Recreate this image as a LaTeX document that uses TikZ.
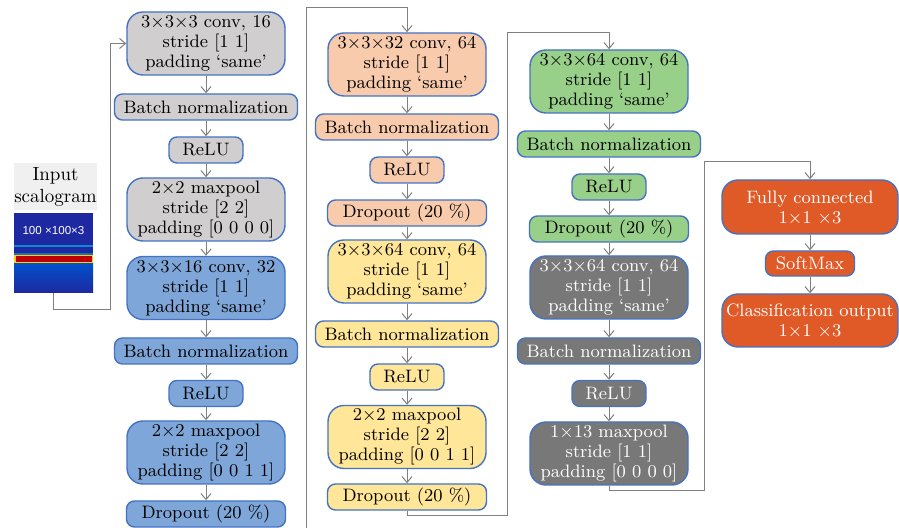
\documentclass[tikz,border=0pt]{standalone}
\usepackage{fontspec}
\newfontfamily\plotfont{Liberation Sans}
\usetikzlibrary{arrows.meta}

\definecolor{edgeblue}{RGB}{68,114,196}
\definecolor{linkgray}{RGB}{128,128,128}
\definecolor{lightgraybox}{RGB}{208,206,206}
\definecolor{bluebox}{RGB}{127,166,216}
\definecolor{salmonbox}{RGB}{248,203,173}
\definecolor{yellowbox}{RGB}{255,230,153}
\definecolor{greenbox}{RGB}{152,208,138}
\definecolor{darkbox}{RGB}{120,120,120}
\definecolor{orangebox}{RGB}{224,90,40}
\definecolor{scalblue}{RGB}{30,40,160}

\begin{document}
\begin{tikzpicture}[x=0.5pt,y=-0.5pt,
    layer/.style={draw=edgeblue, line width=0.7pt, rounded corners=4pt, align=center,
        inner sep=0pt, font=\fontsize{9}{10}\selectfont},
    convbox/.style={layer, rounded corners=8pt, minimum width=79pt, minimum height=31.5pt},
    normbox/.style={layer, minimum width=91.5pt, minimum height=13pt},
    relubox/.style={layer, minimum width=37pt, minimum height=13pt},
    dropbox/.style={layer, minimum width=79.5pt, minimum height=13pt},
    link/.style={draw=linkgray, line width=0.5pt, -{Straight Barb[length=3pt,width=5pt]}}]
    \useasboundingbox (0,0) rectangle (899,528);
    % Define column centres
    \def\colA{206}
    \def\colB{407}
    \def\colC{609}
    \def\colD{810}

    % Input scalogram
    \node[fill=black!6, minimum width=41.5pt, minimum height=23.5pt, align=center, inner sep=0pt,
        font=\fontsize{9.5}{11}\selectfont] (inlabel) at (55.5,186.5) {Input\\scalogram};
    \begin{scope}
        \fill[scalblue] (14,213) rectangle (93,293);
        \shade[top color=blue!60!cyan!80!black, bottom color=scalblue] (14,263) rectangle (93,293);
        \fill[cyan!70!blue] (14,245.5) rectangle (93,247.5);
        \fill[cyan!50!blue] (14,253) rectangle (93,255);
        \fill[yellow!70!orange] (14,255.5) rectangle (93,263.5);
        \fill[red!75!black] (15.5,256.5) rectangle (91.5,262.5);
        \node[text=white, font=\plotfont\fontsize{5.8}{6}\selectfont] at (53.5,231) {100 ×100×3};
    \end{scope}
    \coordinate (scal) at (53.5,293);

    % First column
    \node[convbox, fill=lightgraybox] (conv1) at (\colA,43.5) {3×3×3 conv, 16\\stride [1 1]\\padding `same'};
    \node[normbox, fill=lightgraybox] (bn1) at (\colA,107) {Batch normalization};
    \node[relubox, fill=lightgraybox] (relu1) at (\colA,150) {ReLU};
    \node[convbox, fill=lightgraybox] (pool1) at (\colA,209.5) {2×2 maxpool\\stride [2 2]\\padding [0 0 0 0]};
    \node[convbox, fill=bluebox] (conv2) at (\colA,288) {3×3×16 conv, 32\\stride [1 1]\\padding `same'};
    \node[normbox, fill=bluebox] (bn2) at (\colA,351) {Batch normalization};
    \node[relubox, fill=bluebox] (relu2) at (\colA,393.5) {ReLU};
    \node[convbox, fill=bluebox] (pool2) at (\colA,452.5) {2×2 maxpool\\stride [2 2]\\padding [0 0 1 1]};
    \node[dropbox, fill=bluebox] (drop1) at (\colA,514) {Dropout (20 \%)};

    % Second column
    \node[convbox, fill=salmonbox] (conv3) at (\colB,64.5) {3×3×32 conv, 64\\stride [1 1]\\padding `same'};
    \node[normbox, fill=salmonbox] (bn3) at (\colB,127) {Batch normalization};
    \node[relubox, fill=salmonbox] (relu3) at (\colB,170) {ReLU};
    \node[dropbox, fill=salmonbox] (drop2) at (\colB,213) {Dropout (20 \%)};
    \node[convbox, fill=yellowbox] (conv4) at (\colB,271.5) {3×3×64 conv, 64\\stride [1 1]\\padding `same'};
    \node[normbox, fill=yellowbox] (bn4) at (\colB,334) {Batch normalization};
    \node[relubox, fill=yellowbox] (relu4) at (\colB,377) {ReLU};
    \node[convbox, fill=yellowbox] (pool3) at (\colB,437) {2×2 maxpool\\stride [2 2]\\padding [0 0 1 1]};
    \node[dropbox, fill=yellowbox] (drop3) at (\colB,497) {Dropout (20 \%)};

    % Third column
    \node[convbox, fill=greenbox] (conv5) at (\colC,81.5) {3×3×64 conv, 64\\stride [1 1]\\padding `same'};
    \node[normbox, fill=greenbox] (bn5) at (\colC,144) {Batch normalization};
    \node[relubox, fill=greenbox] (relu5) at (\colC,187) {ReLU};
    \node[dropbox, fill=greenbox] (drop4) at (\colC,229) {Dropout (20 \%)};
    \node[convbox, fill=darkbox, text=white] (conv6) at (\colC,287.5) {3×3×64 conv, 64\\stride [1 1]\\padding `same'};
    \node[normbox, fill=darkbox, text=white] (bn6) at (\colC,351) {Batch normalization};
    \node[relubox, fill=darkbox, text=white] (relu6) at (\colC,393.5) {ReLU};
    \node[convbox, fill=darkbox, text=white] (pool4) at (\colC,453.5) {1×13 maxpool\\stride [1 1]\\padding [0 0 0 0]};

    % Output column
    \node[layer, rounded corners=8pt, fill=orangebox, text=white, minimum width=88pt, minimum height=27pt]
        (fc) at (\colD,207) {Fully connected\\1×1 ×3};
    \node[layer, fill=orangebox, text=white, minimum width=44.5pt, minimum height=12.5pt]
        (softmax) at (\colD,263.5) {SoftMax};
    \node[layer, rounded corners=8pt, fill=orangebox, text=white, minimum width=88pt, minimum height=26.5pt]
        (classout) at (\colD,320.5) {Classification output\\1×1 ×3};

    % Arrows inside each column
    \foreach \a/\b in {conv1/bn1, bn1/relu1, relu1/pool1, pool1/conv2, conv2/bn2, bn2/relu2, relu2/pool2, pool2/drop1,
        conv3/bn3, bn3/relu3, relu3/drop2, drop2/conv4, conv4/bn4, bn4/relu4, relu4/pool3, pool3/drop3,
        conv5/bn5, bn5/relu5, relu5/drop4, drop4/conv6, conv6/bn6, bn6/relu6, relu6/pool4,
        fc/softmax, softmax/classout}
        \draw[link] (\a) -- (\b);

    % Links from one column to the next
    \coordinate (inbend) at (110,310);
    \coordinate (loopA) at (306,540);
    \coordinate (topA) at (306,8);
    \coordinate (loopB) at (507,516);
    \coordinate (topB) at (507,33);
    \coordinate (loopC) at (704,491);
    \coordinate (topC) at (704,162);
    \draw[link] (scal) |- (inbend) |- (conv1.west);
    \draw[link] (drop1.south) |- (loopA) -- (topA) -| (conv3.north);
    \draw[link] (drop3.south) |- (loopB) -- (topB) -| (conv5.north);
    \draw[link] (pool4.south) |- (loopC) -- (topC) -| (fc.north);
\end{tikzpicture}
\end{document}
